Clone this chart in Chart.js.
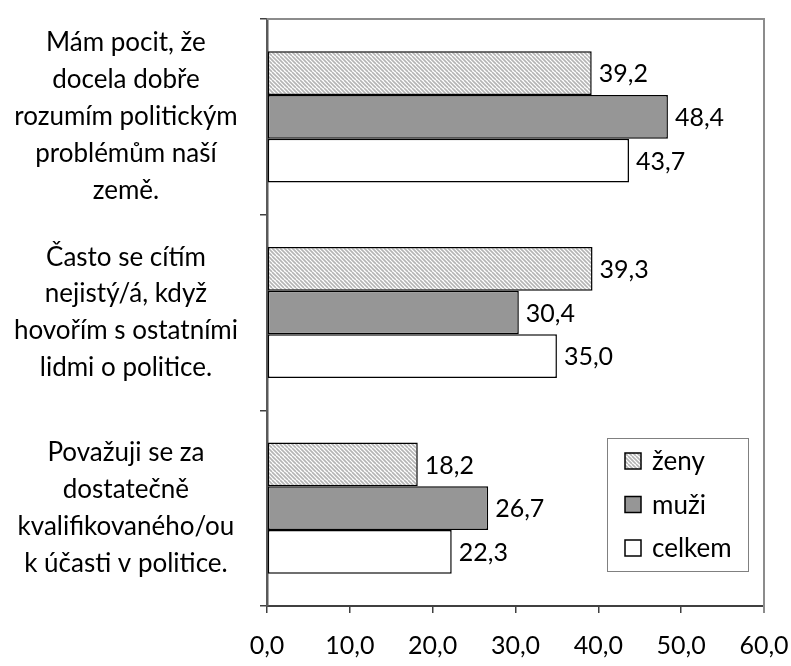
<!DOCTYPE html>
<html>
<head>
<meta charset="utf-8">
<script src="https://cdn.jsdelivr.net/npm/chart.js@4/dist/chart.umd.min.js"></script>
<style>
	html, body { margin: 0; padding: 0; background: #fff; }
	#wrap { width: 791px; height: 666px; }
</style>
</head>
<body>
<div id="wrap"><canvas id="chart" width="791" height="666"></canvas></div>
<script>
const categories = [
	['Mám pocit, že', 'docela dobře', 'rozumím politickým', 'problémům naší', 'země.'],
	['Často se cítím', 'nejistý/á, když', 'hovořím s ostatními', 'lidmi o politice.'],
	['Považuji se za', 'dostatečně', 'kvalifikovaného/ou', 'k účasti v politice.'],
];
const seriesNames = ['ženy', 'muži', 'celkem'];
const zeny = [39.2, 39.3, 18.2];
const muzi = [48.4, 30.4, 26.7];
const celkem = [43.7, 35.0, 22.3];
const xTicks = [0, 10, 20, 30, 40, 50, 60];

const FONT = 'Lato, "Open Sans", sans-serif';
const fmt = v => v.toFixed(1).replace('.', ',');

// diagonal hatch for "ženy"
function makeHatch() {
	const c = document.createElement('canvas');
	c.width = 8;
	c.height = 8;
	const g = c.getContext('2d');
	g.fillStyle = '#fff';
	g.fillRect(0, 0, 8, 8);
	g.strokeStyle = '#b4b4b4';
	g.lineWidth = 1.6;
	for (let o = -8; o <= 8; o += 4) {
		g.beginPath();
		g.moveTo(o, 0);
		g.lineTo(o + 8, 8);
		g.stroke();
	}
	return g.createPattern(c, 'repeat');
}
const hatch = makeHatch();

const frame = {
	id: 'frame',
	beforeDatasetsDraw(chart) {
		const { ctx, chartArea: a } = chart;
		ctx.save();
		ctx.strokeStyle = '#8c8c8c';
		ctx.lineWidth = 2;
		ctx.beginPath();
		ctx.moveTo(a.left, a.top);
		ctx.lineTo(a.right, a.top);
		ctx.lineTo(a.right, a.bottom + 7);
		ctx.stroke();
		ctx.restore();
	}
};

const valueLabels = {
	id: 'valueLabels',
	afterDatasetsDraw(chart) {
		const { ctx } = chart;
		ctx.save();
		ctx.font = '25px ' + FONT;
		ctx.fillStyle = '#000';
		ctx.textAlign = 'left';
		ctx.textBaseline = 'middle';
		chart.data.datasets.forEach((ds, i) => {
			chart.getDatasetMeta(i).data.forEach((bar, j) => {
				const { x, y } = bar.getProps(['x', 'y'], true);
				ctx.fillText(fmt(ds.data[j]), x + 7, y + 1);
			});
		});
		ctx.restore();
	}
};

const boxLegend = {
	id: 'boxLegend',
	afterDraw(chart) {
		const { ctx } = chart;
		const bx = 607, by = 438, bw = 141, bh = 133;
		ctx.save();
		ctx.fillStyle = '#fff';
		ctx.fillRect(bx, by, bw, bh);
		ctx.strokeStyle = '#808080';
		ctx.lineWidth = 1;
		ctx.strokeRect(bx + 0.5, by + 0.5, bw, bh);
		ctx.font = '26px ' + FONT;
		ctx.textBaseline = 'middle';
		chart.data.datasets.forEach((ds, i) => {
			const cy = by + 23 + i * 43.5;
			ctx.fillStyle = ds.backgroundColor;
			ctx.fillRect(625, cy - 8, 16, 16);
			ctx.strokeStyle = '#000';
			ctx.lineWidth = 1.5;
			ctx.strokeRect(625, cy - 8, 16, 16);
			ctx.fillStyle = '#000';
			ctx.fillText(ds.label, 652, cy + 1);
		});
		ctx.restore();
	}
};

new Chart(document.getElementById('chart'), {
	type: 'bar',
	data: {
		labels: categories,
		datasets: [
			{ label: seriesNames[0], data: zeny, backgroundColor: hatch },
			{ label: seriesNames[1], data: muzi, backgroundColor: '#969696' },
			{ label: seriesNames[2], data: celkem, backgroundColor: '#ffffff' },
		].map(d => Object.assign(d, {
			borderColor: '#000',
			borderWidth: 1.5,
			borderSkipped: false,
			categoryPercentage: 0.67,
			barPercentage: 1,
		}))
	},
	options: {
		indexAxis: 'y',
		responsive: false,
		animation: false,
		layout: { padding: { top: 19, right: 27, bottom: 0, left: 0 } },
		plugins: {
			legend: { display: false },
			tooltip: { enabled: false },
		},
		scales: {
			x: {
				min: 0,
				max: 60,
				afterBuildTicks: scale => { scale.ticks = xTicks.map(v => ({ value: v })); },
				afterFit: scale => {
					scale.height = 60;
					scale.paddingLeft = 0;
					scale.paddingRight = 0;
				},
				ticks: {
					padding: 18,
					color: '#000',
					font: { family: FONT, size: 25 },
					maxRotation: 0,
					callback: v => fmt(v),
				},
				grid: { drawOnChartArea: false, tickLength: 7, color: '#404040', lineWidth: 1.5 },
				border: { color: '#404040', width: 2 },
			},
			y: {
				afterFit: scale => {
					scale.width = 267;
					scale.paddingTop = 0;
					scale.paddingBottom = 0;
				},
				ticks: {
					padding: 22,
					crossAlign: 'center',
					color: '#000',
					font: { family: FONT, size: 26, lineHeight: 1.42 },
				},
				grid: { drawOnChartArea: false, tickLength: 7, color: '#404040', lineWidth: 1.5 },
				border: { color: '#595959', width: 2.5 },
			},
		},
	},
	plugins: [frame, valueLabels, boxLegend],
});
</script>
</body>
</html>
